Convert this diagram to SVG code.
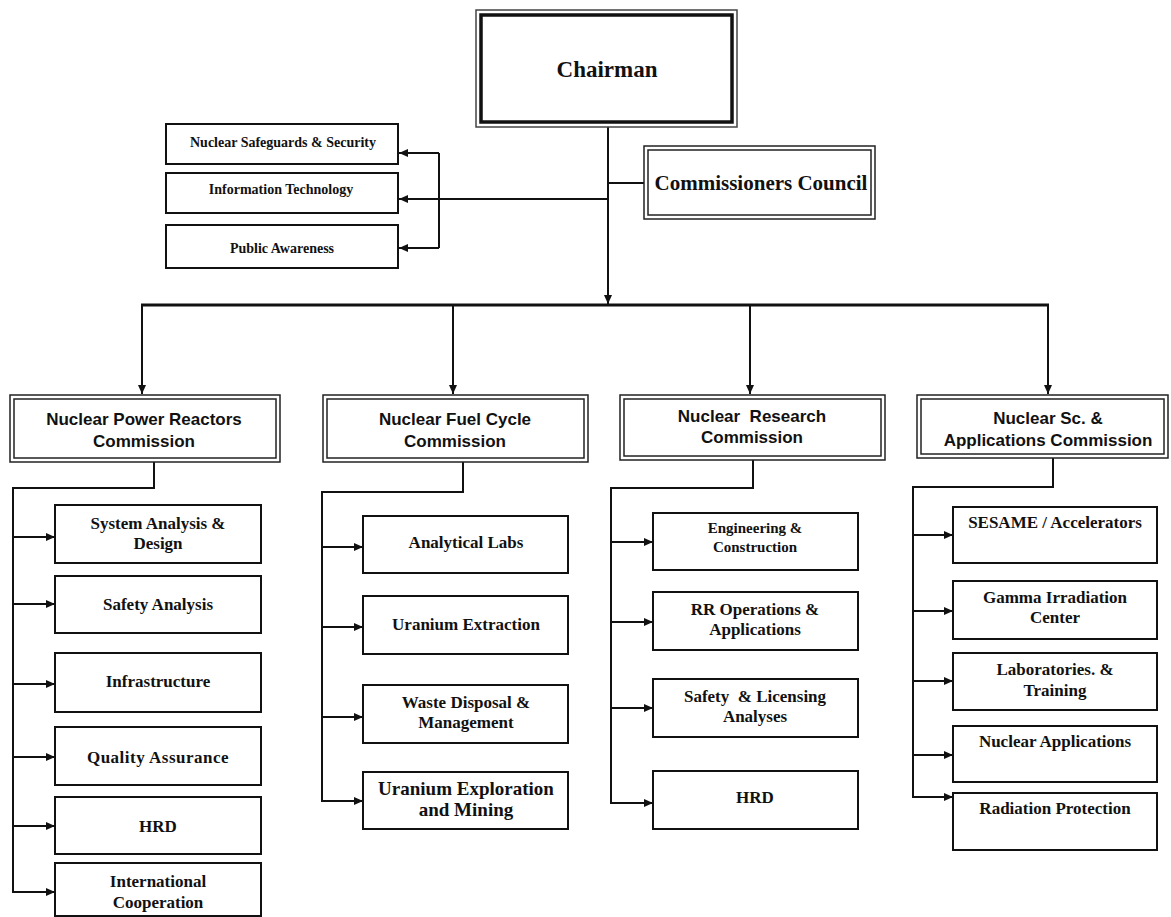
<svg xmlns="http://www.w3.org/2000/svg" width="1171" height="917" viewBox="0 0 1171 917">
<style>
.bx{fill:#fff;stroke:#111;stroke-width:2}
.thin{fill:#fff;stroke:#222;stroke-width:1.5}
.thinin{fill:none;stroke:#222;stroke-width:1.5}
.tm{font-family:"Liberation Serif","Times New Roman",serif;font-weight:bold;fill:#111;text-anchor:middle}
.ar{font-family:"Liberation Sans",Arial,sans-serif;font-weight:bold;fill:#111;text-anchor:middle;font-size:17px}
.c{font-size:17px}
.s{font-size:14px}
.ln{fill:none;stroke:#111;stroke-width:2}
.pre{white-space:pre}
</style>
<defs>
<marker id="ah" markerUnits="userSpaceOnUse" markerWidth="9" markerHeight="8" refX="9" refY="4" orient="auto">
<path d="M0,0 L9,4 L0,8 z" fill="#111"/>
</marker>
</defs>
<rect width="1171" height="917" fill="#fff"/>

<g id="connectors">
<path class="ln" d="M608,127 V304" marker-end="url(#ah)"/>
<path class="ln" style="stroke-width:3" d="M141,305 H1049"/>
<path class="ln" d="M142,306 V394" marker-end="url(#ah)"/>
<path class="ln" d="M453,306 V394" marker-end="url(#ah)"/>
<path class="ln" d="M750,306 V394" marker-end="url(#ah)"/>
<path class="ln" d="M1048,306 V394" marker-end="url(#ah)"/>
<path class="ln" d="M608,183 H644"/>
<path class="ln" d="M608,199 H399" marker-end="url(#ah)"/>
<path class="ln" d="M439,153 V248"/>
<path class="ln" d="M439,153 H399" marker-end="url(#ah)"/>
<path class="ln" d="M439,248 H399" marker-end="url(#ah)"/>

<path class="ln" d="M154,462 V488 H13 V892"/>
<path class="ln" d="M13,537 H55" marker-end="url(#ah)"/>
<path class="ln" d="M13,604 H55" marker-end="url(#ah)"/>
<path class="ln" d="M13,684 H55" marker-end="url(#ah)"/>
<path class="ln" d="M13,757 H55" marker-end="url(#ah)"/>
<path class="ln" d="M13,826 H55" marker-end="url(#ah)"/>
<path class="ln" d="M12,892 H55" marker-end="url(#ah)"/>

<path class="ln" d="M463,462 V492 H322 V801"/>
<path class="ln" d="M322,547 H363" marker-end="url(#ah)"/>
<path class="ln" d="M322,627 H363" marker-end="url(#ah)"/>
<path class="ln" d="M322,717 H363" marker-end="url(#ah)"/>
<path class="ln" d="M321,801 H363" marker-end="url(#ah)"/>

<path class="ln" d="M753,460 V488 H611 V803"/>
<path class="ln" d="M611,542 H653" marker-end="url(#ah)"/>
<path class="ln" d="M611,622 H653" marker-end="url(#ah)"/>
<path class="ln" d="M611,708 H653" marker-end="url(#ah)"/>
<path class="ln" d="M610,803 H653" marker-end="url(#ah)"/>

<path class="ln" d="M1053,458 V487 H913 V797"/>
<path class="ln" d="M913,535 H953" marker-end="url(#ah)"/>
<path class="ln" d="M913,611 H953" marker-end="url(#ah)"/>
<path class="ln" d="M913,681 H953" marker-end="url(#ah)"/>
<path class="ln" d="M913,755 H953" marker-end="url(#ah)"/>
<path class="ln" d="M912,797 H953" marker-end="url(#ah)"/>
</g>

<g id="chairman">
<rect x="476" y="10" width="261" height="117" fill="#fff" stroke="#444" stroke-width="1.5"/>
<rect x="481" y="15" width="251" height="107" fill="none" stroke="#111" stroke-width="3.5"/>
<text class="tm" x="607" y="77" font-size="23">Chairman</text>
</g>

<g id="council">
<rect class="thin" x="644" y="146" width="231" height="73"/>
<rect class="thinin" x="648" y="150" width="223" height="65"/>
<text class="tm" x="761" y="190" font-size="21">Commissioners Council</text>
</g>

<g id="safeguards">
<rect class="bx" x="166" y="124" width="232" height="40"/>
<text class="tm s" x="283" y="147">Nuclear Safeguards &amp; Security</text>
</g>
<g id="it">
<rect class="bx" x="166" y="173" width="232" height="40"/>
<text class="tm s" x="281" y="194">Information Technology</text>
</g>
<g id="public">
<rect class="bx" x="166" y="225" width="232" height="43"/>
<text class="tm s" x="282" y="253">Public Awareness</text>
</g>

<g id="npr">
<rect class="thin" x="10" y="395" width="270" height="67"/>
<rect class="thinin" x="14" y="399" width="262" height="59"/>
<text class="ar" x="144" y="425">Nuclear Power Reactors</text>
<text class="ar" x="144" y="447">Commission</text>
</g>
<g id="nfc">
<rect class="thin" x="323" y="395" width="265" height="67"/>
<rect class="thinin" x="327" y="399" width="257" height="59"/>
<text class="ar" x="455" y="425">Nuclear Fuel Cycle</text>
<text class="ar" x="455" y="447">Commission</text>
</g>
<g id="nrc">
<rect class="thin" x="620" y="395" width="265" height="65"/>
<rect class="thinin" x="624" y="399" width="257" height="57"/>
<text class="ar pre" x="752" y="422">Nuclear  Research</text>
<text class="ar" x="752" y="443">Commission</text>
</g>
<g id="nsac">
<rect class="thin" x="917" y="395" width="251" height="63"/>
<rect class="thinin" x="921" y="399" width="243" height="55"/>
<text class="ar" x="1048" y="424">Nuclear Sc. &amp;</text>
<text class="ar" x="1048" y="446">Applications Commission</text>
</g>

<g id="npr-sad">
<rect class="bx" x="55" y="505" width="206" height="58"/>
<text class="tm c" x="158" y="529">System Analysis &amp;</text>
<text class="tm c" x="158" y="549">Design</text>
</g>
<g id="npr-sa">
<rect class="bx" x="55" y="576" width="206" height="57"/>
<text class="tm c" x="158" y="610">Safety Analysis</text>
</g>
<g id="npr-inf">
<rect class="bx" x="55" y="653" width="206" height="59"/>
<text class="tm c" x="158" y="687">Infrastructure</text>
</g>
<g id="npr-qa">
<rect class="bx" x="55" y="727" width="206" height="58"/>
<text class="tm c" x="158" y="763" letter-spacing="0.5">Quality Assurance</text>
</g>
<g id="npr-hrd">
<rect class="bx" x="55" y="797" width="206" height="57"/>
<text class="tm c" x="158" y="832">HRD</text>
</g>
<g id="npr-ic">
<rect class="bx" x="55" y="863" width="206" height="53"/>
<text class="tm c" x="158" y="887">International</text>
<text class="tm c" x="158" y="908">Cooperation</text>
</g>

<g id="nfc-al">
<rect class="bx" x="363" y="516" width="205" height="57"/>
<text class="tm c" x="466" y="548">Analytical Labs</text>
</g>
<g id="nfc-ue">
<rect class="bx" x="363" y="596" width="205" height="58"/>
<text class="tm c" x="466" y="630">Uranium Extraction</text>
</g>
<g id="nfc-wd">
<rect class="bx" x="363" y="685" width="205" height="58"/>
<text class="tm c" x="466" y="708">Waste Disposal &amp;</text>
<text class="tm c" x="466" y="728">Management</text>
</g>
<g id="nfc-uem">
<rect class="bx" x="363" y="772" width="205" height="57"/>
<text class="tm" font-size="19" x="466" y="795">Uranium Exploration</text>
<text class="tm" font-size="19" x="466" y="816">and Mining</text>
</g>

<g id="nrc-ec">
<rect class="bx" x="653" y="513" width="205" height="57"/>
<text class="tm" font-size="15" x="755" y="533">Engineering &amp;</text>
<text class="tm" font-size="15" x="755" y="552">Construction</text>
</g>
<g id="nrc-rr">
<rect class="bx" x="653" y="592" width="205" height="58"/>
<text class="tm c" x="755" y="615">RR Operations &amp;</text>
<text class="tm c" x="755" y="635">Applications</text>
</g>
<g id="nrc-sl">
<rect class="bx" x="653" y="679" width="205" height="58"/>
<text class="tm c pre" x="755" y="702">Safety  &amp; Licensing</text>
<text class="tm c" x="755" y="722">Analyses</text>
</g>
<g id="nrc-hrd">
<rect class="bx" x="653" y="771" width="205" height="58"/>
<text class="tm c" x="755" y="803">HRD</text>
</g>

<g id="nsac-ses">
<rect class="bx" x="953" y="507" width="204" height="56"/>
<text class="tm c" x="1055" y="528">SESAME / Accelerators</text>
</g>
<g id="nsac-gic">
<rect class="bx" x="953" y="581" width="204" height="58"/>
<text class="tm c" x="1055" y="603">Gamma Irradiation</text>
<text class="tm c" x="1055" y="623">Center</text>
</g>
<g id="nsac-lt">
<rect class="bx" x="953" y="653" width="204" height="57"/>
<text class="tm c" x="1055" y="675">Laboratories. &amp;</text>
<text class="tm c" x="1055" y="696">Training</text>
</g>
<g id="nsac-na">
<rect class="bx" x="953" y="726" width="204" height="56"/>
<text class="tm c" x="1055" y="747">Nuclear Applications</text>
</g>
<g id="nsac-rp">
<rect class="bx" x="953" y="793" width="204" height="57"/>
<text class="tm c" x="1055" y="814">Radiation Protection</text>
</g>
</svg>
